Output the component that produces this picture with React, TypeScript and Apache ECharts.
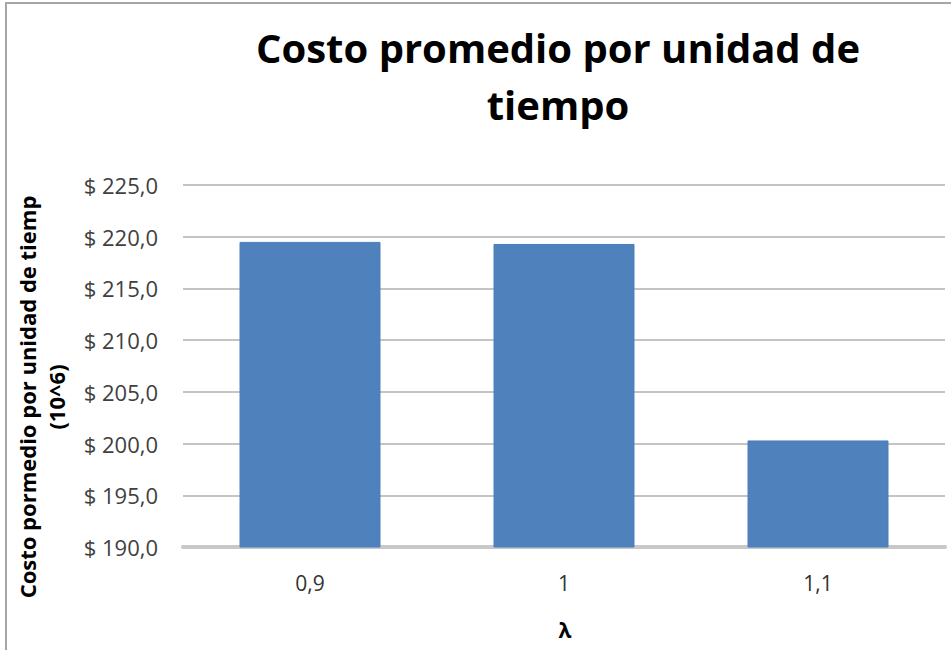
import React, { useEffect, useRef } from "react";
import * as echarts from "echarts";

const categories = ["0,9", "1", "1,1"];
const costValues = [219.5, 219.3, 200.3];
const titleLines = ["Costo promedio por unidad de", "tiempo"];
const yAxisNameLines = ["Costo pormedio por unidad de tiemp", "(10^6)"];
const xAxisName = "λ";

export default function App() {
  const ref = useRef<HTMLDivElement>(null);
  useEffect(() => {
    if (!ref.current) return;
    const chart = echarts.init(ref.current, undefined, { renderer: "svg" });
    const font = "Open Sans";
    chart.setOption({
      animation: false,
      backgroundColor: "#ffffff",
      title: {
        text: titleLines.join("\n"),
        left: 553,
        textAlign: "center",
        top: 14,
        textStyle: {
          fontFamily: font,
          fontSize: 40,
          fontWeight: "bold",
          color: "#000000",
          lineHeight: 57,
        },
      },
      grid: { left: 183, right: 6, top: 185, bottom: 103 },
      xAxis: {
        type: "category",
        data: categories,
        axisLine: { lineStyle: { color: "#C8C8C8", width: 4 } },
        axisTick: { show: false },
        axisLabel: { fontFamily: font, fontSize: 21, color: "#333333", margin: 25 },
      },
      yAxis: {
        type: "value",
        min: 190,
        max: 225,
        interval: 5,
        axisLine: { show: false },
        axisTick: { show: false },
        splitLine: { lineStyle: { color: "#C4C4C4", width: 2 } },
        axisLabel: {
          fontFamily: font,
          fontSize: 22,
          color: "#404040",
          margin: 25,
          formatter: (v: number) => "$ " + v.toFixed(1).replace(".", ","),
        },
      },
      series: [
        {
          type: "bar",
          data: costValues,
          barWidth: "55.5%",
          itemStyle: { color: "#4F81BD", borderColor: "#4A7EBB", borderWidth: 1 },
        },
      ],
      graphic: [
        {
          type: "rect",
          shape: { x: 6, y: 3, width: 1200, height: 1000 },
          style: { fill: "none", stroke: "#A6A6A6", lineWidth: 2 },
          silent: true,
          z: 100,
        },
        {
          type: "text",
          x: 27,
          y: 397,
          rotation: Math.PI / 2,
          style: {
            text: yAxisNameLines[0],
            fontFamily: font,
            fontSize: 22,
            fontWeight: "bold",
            fill: "#000000",
            align: "center",
            verticalAlign: "middle",
          },
        },
        {
          type: "text",
          x: 56,
          y: 397,
          rotation: Math.PI / 2,
          style: {
            text: yAxisNameLines[1],
            fontFamily: font,
            fontSize: 22,
            fontWeight: "bold",
            fill: "#000000",
            align: "center",
            verticalAlign: "middle",
          },
        },
        {
          type: "text",
          x: 565,
          y: 630,
          style: {
            text: xAxisName,
            fontFamily: font,
            fontSize: 21,
            fontWeight: "bold",
            fill: "#000000",
            align: "center",
            verticalAlign: "middle",
          },
        },
      ],
    });
    return () => chart.dispose();
  }, []);
  return (
    <div
      ref={ref}
      style={{ position: "fixed", left: 0, top: 0, width: 951, height: 650 }}
    />
  );
}
